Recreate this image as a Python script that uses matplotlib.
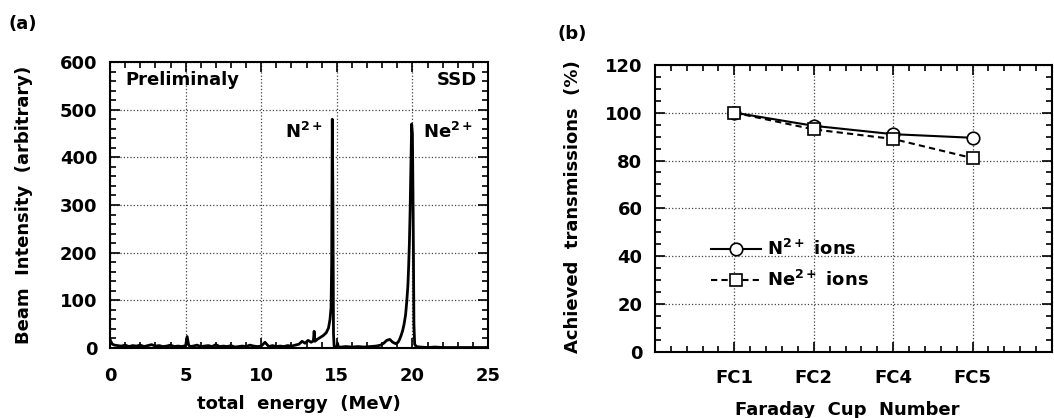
import matplotlib.pyplot as plt
from matplotlib.ticker import MultipleLocator

plt.rcParams['font.family'] = ['DejaVu Sans']
plt.rcParams['font.weight'] = 'bold'
plt.rcParams['axes.labelweight'] = 'bold'
plt.rcParams['mathtext.fontset'] = 'dejavusans'
plt.rcParams['mathtext.default'] = 'bf'

# (a) SSD energy spectrum
energy_mev = [
    0.00, 0.05, 0.15, 0.30, 0.50, 0.75, 1.00, 1.25, 1.50, 1.75,
    2.00, 2.25, 2.50, 2.75, 3.00, 3.25, 3.50, 3.75, 4.00, 4.25,
    4.50, 4.75, 5.00, 5.10, 5.20, 5.30, 5.50, 5.75, 6.00, 6.25,
    6.50, 6.75, 7.00, 7.25, 7.50, 7.75, 8.00, 8.25, 8.50, 8.75,
    9.00, 9.25, 9.50, 9.75, 10.00, 10.25, 10.50, 10.75, 11.00, 11.25,
    11.50, 11.75, 12.00, 12.25,
    12.50, 12.70, 12.90, 13.10, 13.30, 13.45, 13.50, 13.55, 13.70, 13.90,
    14.10, 14.30, 14.45, 14.55, 14.62, 14.66, 14.70, 14.74, 14.78, 14.82,
    14.90, 15.00, 15.05, 15.10, 15.30, 15.60, 16.00, 16.40, 16.80, 17.20,
    17.60, 17.90, 18.10, 18.30, 18.50, 18.70, 18.90, 19.05, 19.15, 19.25,
    19.35, 19.45, 19.55, 19.62, 19.70, 19.75, 19.80, 19.85, 19.90, 19.95,
    20.00, 20.05, 20.10, 20.15, 20.25, 20.50, 21.00, 21.50, 22.00, 22.50,
    23.00, 23.50, 24.00, 24.50, 25.00]
counts = [
    18, 14, 8, 6, 5, 4, 6, 3, 5, 4,
    6, 3, 5, 7, 4, 5, 3, 4, 6, 3,
    4, 3, 5, 24, 6, 3, 4, 6, 3, 4,
    5, 3, 7, 3, 4, 3, 5, 2, 3, 4,
    3, 6, 4, 3, 4, 12, 3, 5, 3, 4,
    3, 5, 4, 6,
    8, 14, 10, 16, 12, 15, 35, 14, 18, 22,
    26, 32, 42, 60, 85, 180, 480, 320, 30, 4,
    1, 2, 10, 2, 2, 3, 2, 3, 2, 3,
    4, 6, 10, 16, 18, 12, 9, 12, 18, 26,
    36, 50, 70, 95, 130, 170, 220, 290, 380, 470,
    450, 280, 50, 8, 3, 2, 1, 2, 1, 1,
    1, 1, 1, 1, 1]

# (b) transmissions
cups = ['FC1', 'FC2', 'FC4', 'FC5']
n2_trans = [100, 94.5, 91, 89.5]
ne2_trans = [100, 93, 89, 81]

fig = plt.figure(figsize=(10.54, 4.18), dpi=100)
ax1 = fig.add_axes([0.1044, 0.1675, 0.3586, 0.684])
ax2 = fig.add_axes([0.6214, 0.158, 0.3767, 0.687])

grid_kw = dict(color='#444444', linestyle=':', linewidth=0.9)

# ---- panel (a)
ax1.plot(energy_mev, counts, color='black', lw=2.0)
ax1.set_xlim(0, 25)
ax1.set_ylim(0, 600)
ax1.xaxis.set_major_locator(MultipleLocator(5))
ax1.xaxis.set_minor_locator(MultipleLocator(1))
ax1.yaxis.set_major_locator(MultipleLocator(100))
ax1.yaxis.set_minor_locator(MultipleLocator(20))
ax1.grid(True, which='major', **grid_kw)
ax1.tick_params(axis='x', pad=14)
ax1.set_xlabel('total  energy  (MeV)', fontsize=13)
ax1.set_ylabel('Beam  Intensity  (arbitrary)', fontsize=13)
ax1.xaxis.set_label_coords(0.5, -0.165)
ax1.yaxis.set_label_coords(-0.205, 0.5)
ax1.text(1.0, 563, 'Preliminaly', fontsize=13, va='center')
ax1.text(24.3, 563, 'SSD', fontsize=13, va='center', ha='right')
ax1.text(11.6, 441, 'N$^{2+}$', fontsize=13)
ax1.text(20.7, 441, 'Ne$^{2+}$', fontsize=13)
fig.text(0.008, 0.965, '(a)', fontsize=13, va='top')

# ---- panel (b)
xpos = [1, 2, 3, 4]
ax2.plot(xpos, n2_trans, color='black', lw=1.5, marker='o', ms=9,
         mfc='white', mec='black', mew=1.2, label='N$^{2+}$ ions')
ax2.plot(xpos, ne2_trans, color='black', lw=1.5, ls=(0, (3, 2)), marker='s',
         ms=8.5, mfc='white', mec='black', mew=1.2, label='Ne$^{2+}$ ions')
ax2.set_xlim(0, 5)
ax2.set_ylim(0, 120)
ax2.set_xticks(xpos)
ax2.set_xticklabels(cups)
ax2.xaxis.set_minor_locator(MultipleLocator(0.2))
ax2.yaxis.set_major_locator(MultipleLocator(20))
ax2.yaxis.set_minor_locator(MultipleLocator(5))
ax2.grid(True, which='major', **grid_kw)
ax2.tick_params(axis='x', pad=12)
ax2.set_xlabel('Faraday  Cup  Number', fontsize=13)
ax2.set_ylabel('Achieved  transmissions  (%)', fontsize=13)
ax2.xaxis.set_label_coords(0.484, -0.17)
ax2.yaxis.set_label_coords(-0.185, 0.505)
ax2.legend(loc='center left', bbox_to_anchor=(0.1, 0.305), frameon=False,
           fontsize=13, handlelength=2.8, handletextpad=0.3, labelspacing=0.6,
           numpoints=1)
fig.text(0.529, 0.94, '(b)', fontsize=13, va='top')

for ax in (ax1, ax2):
    for sp in ax.spines.values():
        sp.set_linewidth(1.5)
    ax.tick_params(which='both', direction='in', top=True, right=True,
                   labelsize=13, width=1.2)
    ax.tick_params(which='major', length=7)
    ax.tick_params(which='minor', length=4)
    ax.tick_params(axis='y', pad=9)

fig.savefig('out.png', dpi=100)
